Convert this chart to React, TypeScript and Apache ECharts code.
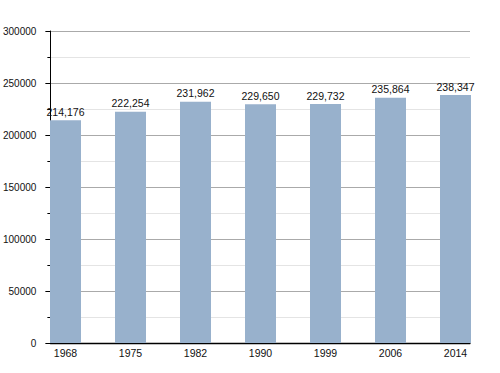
import React, { useEffect, useRef } from "react";
import * as echarts from "echarts";

const years = ["1968", "1975", "1982", "1990", "1999", "2006", "2014"];
const population = [214176, 222254, 231962, 229650, 229732, 235864, 238347];
const yMin = 0;
const yMax = 300000;
const yInterval = 50000;

const fmt = (v: number) => v.toLocaleString("en-US");

export default function App() {
  const ref = useRef<HTMLDivElement>(null);
  useEffect(() => {
    if (!ref.current) return;
    const chart = echarts.init(ref.current, undefined, { renderer: "svg" });
    const font = "'Liberation Sans', Arial, sans-serif";
    chart.setOption({
      animation: false,
      backgroundColor: "#ffffff",
      grid: [
        { left: 50, right: 30, top: 31, bottom: 30 },
        { left: 65.5, right: 44.5, top: 31, bottom: 30 },
      ],
      xAxis: [
        {
          type: "category",
          gridIndex: 0,
          data: years,
          axisLine: { show: true, lineStyle: { color: "#000", width: 1.3 } },
          axisTick: { show: false },
          axisLabel: { show: false },
          splitLine: { show: false },
        },
        {
          type: "category",
          gridIndex: 1,
          data: years,
          boundaryGap: false,
          axisLine: { show: false },
          axisTick: { show: false },
          axisLabel: { show: true, margin: 4, fontSize: 10.5, color: "#111", fontFamily: font },
          splitLine: { show: false },
        },
      ],
      yAxis: [
        {
          type: "value",
          gridIndex: 0,
          min: yMin,
          max: yMax,
          interval: yInterval,
          axisLine: { show: true, lineStyle: { color: "#000", width: 1 } },
          axisTick: { show: true, length: 5, lineStyle: { color: "#000" } },
          minorTick: { show: true, splitNumber: 2, length: 3, lineStyle: { color: "#000" } },
          axisLabel: {
            margin: 14,
            fontSize: 10,
            color: "#111",
            fontFamily: font,
            formatter: (v: number) => String(v),
          },
          splitLine: { show: true, lineStyle: { color: "#aaaaaa", width: 1 } },
          minorSplitLine: { show: true, lineStyle: { color: "#e4e4e4", width: 1 } },
        },
        {
          type: "value",
          gridIndex: 1,
          min: yMin,
          max: yMax,
          interval: yInterval,
          show: false,
        },
      ],
      series: [
        {
          type: "bar",
          xAxisIndex: 1,
          yAxisIndex: 1,
          data: population,
          barWidth: 31,
          clip: false,
          itemStyle: { color: "#98b1cc" },
          label: {
            show: true,
            position: "top",
            distance: 3,
            fontSize: 10.5,
            color: "#111",
            fontFamily: font,
            formatter: (p: any) => fmt(p.value),
          },
        },
      ],
    });
    return () => chart.dispose();
  }, []);
  return <div ref={ref} style={{ width: 500, height: 373, position: "absolute", left: 0, top: 0 }} />;
}
